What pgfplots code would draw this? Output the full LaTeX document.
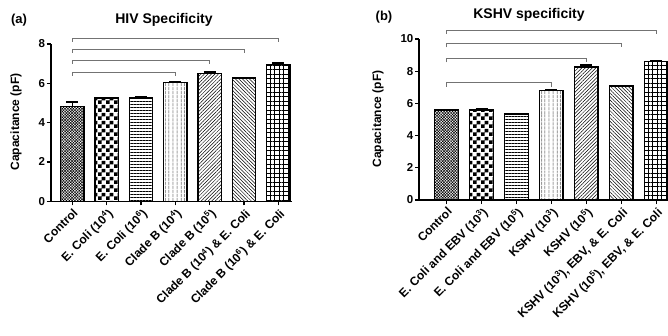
\documentclass[border=0pt]{standalone}
\usepackage{fontspec}
\setmainfont{Liberation Sans}
\usepackage{pgfplots}
\pgfplotsset{compat=1.18}
\usetikzlibrary{patterns,patterns.meta}

\pgfdeclarepatternformonly{bigchecker}{\pgfpointorigin}{\pgfpoint{7.5pt}{7.5pt}}{\pgfpoint{7.5pt}{7.5pt}}{%
  \pgfpathrectangle{\pgfpointorigin}{\pgfpoint{3.75pt}{3.75pt}}%
  \pgfpathrectangle{\pgfpoint{3.75pt}{3.75pt}}{\pgfpoint{3.75pt}{3.75pt}}%
  \pgfusepath{fill}}

\pgfplotsset{
  mybar/.style={ybar, bar width=0.68, bar shift=0pt, draw=black, line width=1.5pt,
    error bars/y dir=plus, error bars/y explicit,
    error bars/error bar style={line width=1.5pt, black},
    error bars/error mark options={rotate=90, mark size=6pt, line width=1.5pt, black}},
  brk/.style={draw=gray!90!black, line width=0.9pt, no marks, sharp plot},
  panel/.style={
    scale only axis, anchor=south west, clip=false,
    axis x line=bottom, axis y line=left,
    axis line style={-, line width=1.6pt},
    tick align=outside, major tick length=4pt,
    tick style={black, line width=1.2pt},
    ymin=0, xtick={0,...,6},
    /pgf/number format/assume math mode=true,
    yticklabel style={font=\fontsize{11.5}{13}\selectfont\bfseries, inner sep=1.5pt},
    xticklabel style={font=\fontsize{12}{14}\selectfont\bfseries, rotate=45, anchor=north east, inner sep=1.5pt},
  }
}

\begin{document}
\begin{tikzpicture}
\path[use as bounding box] (0,0) rectangle (668pt,335pt);

% ---------- panel (a)
\begin{axis}[panel, at={(50.7pt,133.7pt)}, width=241.3pt, height=157.4pt,
  xmin=-0.63, xmax=6.40, ymax=8, ytick={0,2,4,6,8},
  xticklabels={Control, E. Coli (10\textsuperscript{4}), E. Coli (10\textsuperscript{6}), Clade B (10\textsuperscript{4}), Clade B (10\textsuperscript{5}), Clade B (10\textsuperscript{4}) \& E. Coli, Clade B (10\textsuperscript{6}) \& E. Coli}]
\addplot[mybar, pattern={Hatch[angle=45, distance=2pt, line width=0.5pt]}] coordinates {(0,4.81) +- (0,0.24)};
\addplot[mybar, pattern=bigchecker] coordinates {(1,5.24) +- (0,0.04)};
\addplot[mybar, pattern={Lines[angle=0, distance=3pt, line width=0.6pt]}] coordinates {(2,5.26) +- (0,0.06)};
\addplot[mybar, pattern={Lines[angle=90, distance=4pt, line width=0.7pt]}] coordinates {(3,6.03) +- (0,0.07)};
\addplot[mybar, pattern={Lines[angle=45, distance=2.5pt, line width=0.5pt]}] coordinates {(4,6.50) +- (0,0.07)};
\addplot[mybar, pattern={Lines[angle=-45, distance=2.5pt, line width=0.5pt]}] coordinates {(5,6.26) +- (0,0.04)};
\addplot[mybar, pattern={Hatch[angle=0, distance=4.5pt, line width=0.6pt]}] coordinates {(6,6.95) +- (0,0.07)};
\addplot[brk] coordinates {(0,6.39) (0,6.56) (3,6.56) (3,6.39)};
\addplot[brk] coordinates {(0,6.98) (0,7.15) (4,7.15) (4,6.98)};
\addplot[brk] coordinates {(0,7.56) (0,7.73) (5,7.73) (5,7.56)};
\addplot[brk] coordinates {(0,8.12) (0,8.29) (6,8.29) (6,8.12)};
\end{axis}

% ---------- panel (b)
\begin{axis}[panel, at={(419pt,135pt)}, width=249pt, height=161pt,
  xmin=-0.79, xmax=6.34, ymax=10, ytick={0,2,4,6,8,10},
  xticklabels={Control, E. Coli and EBV (10\textsuperscript{3}), E. Coli and EBV (10\textsuperscript{5}), KSHV (10\textsuperscript{3}), KSHV (10\textsuperscript{5}), {KSHV (10\textsuperscript{3}), EBV, \& E. Coli}, {KSHV (10\textsuperscript{5}), EBV, \& E. Coli}}]
\addplot[mybar, pattern={Hatch[angle=45, distance=2pt, line width=0.5pt]}] coordinates {(0,5.59) +- (0,0.04)};
\addplot[mybar, pattern=bigchecker] coordinates {(1,5.59) +- (0,0.05)};
\addplot[mybar, pattern={Lines[angle=0, distance=3pt, line width=0.6pt]}] coordinates {(2,5.33) +- (0,0.05)};
\addplot[mybar, pattern={Lines[angle=90, distance=4pt, line width=0.7pt]}] coordinates {(3,6.80) +- (0,0.03)};
\addplot[mybar, pattern={Lines[angle=45, distance=2.5pt, line width=0.5pt]}] coordinates {(4,8.25) +- (0,0.15)};
\addplot[mybar, pattern={Lines[angle=-45, distance=2.5pt, line width=0.5pt]}] coordinates {(5,7.07) +- (0,0.05)};
\addplot[mybar, pattern={Hatch[angle=0, distance=4.5pt, line width=0.6pt]}] coordinates {(6,8.60) +- (0,0.06)};
\addplot[brk] coordinates {(0,7.04) (0,7.29) (3,7.29) (3,7.04)};
\addplot[brk] coordinates {(0,8.55) (0,8.80) (4,8.80) (4,8.55)};
\addplot[brk] coordinates {(0,9.48) (0,9.73) (5,9.73) (5,9.48)};
\addplot[brk] coordinates {(0,10.31) (0,10.56) (6,10.56) (6,10.31)};
\end{axis}

% titles and panel letters
\node[font=\fontsize{14}{16}\selectfont\bfseries] at (164pt,315pt) {HIV Specificity};
\node[font=\fontsize{14}{16}\selectfont\bfseries] at (529pt,320pt) {KSHV specificity};
\node[font=\fontsize{13}{15}\selectfont\bfseries] at (19pt,315pt) {(a)};
\node[font=\fontsize{13}{15}\selectfont\bfseries] at (384pt,318pt) {(b)};
\node[font=\fontsize{12}{14}\selectfont\bfseries, rotate=90] at (16pt,213pt) {Capacitance (pF)};
\node[font=\fontsize{12}{14}\selectfont\bfseries, rotate=90] at (378pt,216pt) {Capacitance (pF)};
\end{tikzpicture}
\end{document}
